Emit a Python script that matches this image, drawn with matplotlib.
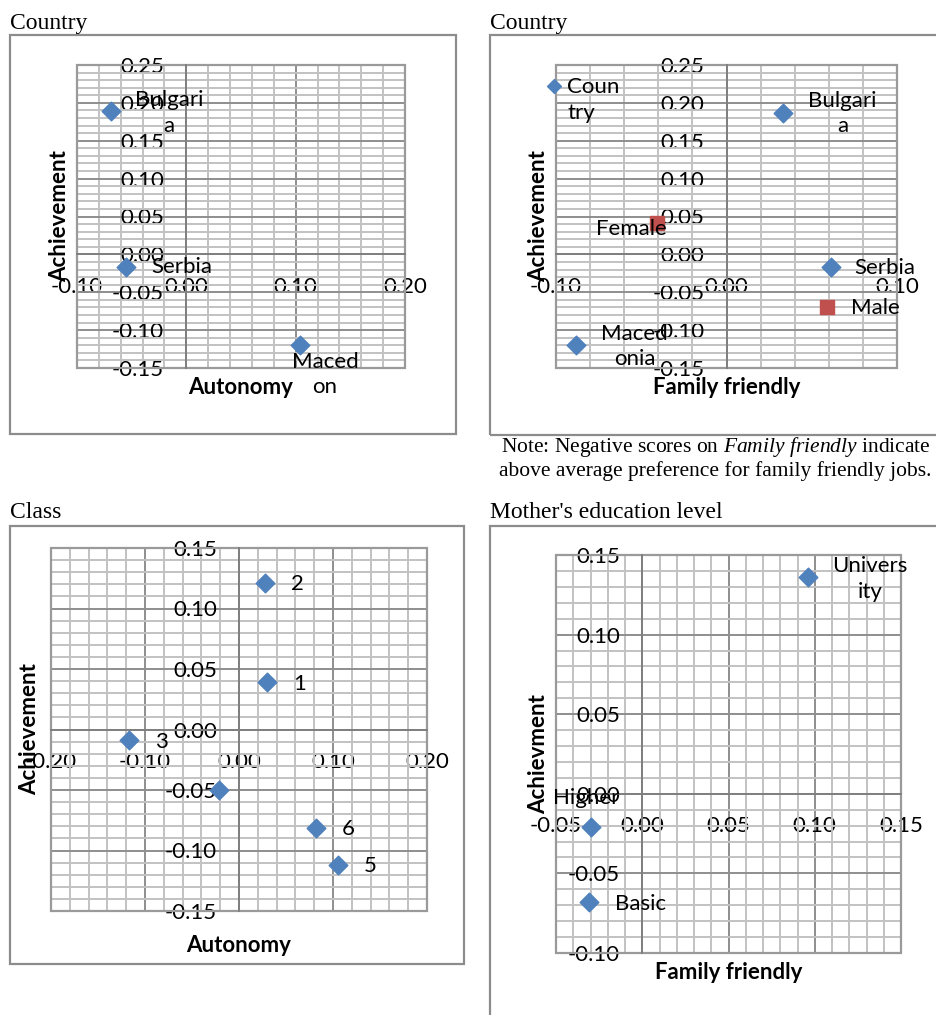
import matplotlib
matplotlib.use('Agg')
from matplotlib import pyplot as plt
from matplotlib.patches import Rectangle
from matplotlib.ticker import MultipleLocator, FormatStrFormatter

plt.rcParams['axes.unicode_minus'] = False
plt.rcParams['font.family'] = ['Lato', 'DejaVu Sans']
plt.rcParams['mathtext.fontset'] = 'custom'
plt.rcParams['mathtext.rm'] = 'Liberation Serif'
plt.rcParams['mathtext.it'] = 'Liberation Serif:italic'

# panel 1: country, autonomy vs achievement
p1_labels = ['Bulgari\na', 'Serbia', 'Maced\non']
p1_aut = [-0.069, -0.055, 0.104]
p1_ach = [0.189, -0.017, -0.119]

# panel 2: country and gender, family friendly vs achievement
p2_labels = ['Bulgari\na', 'Serbia', 'Maced\nonia']
p2_ff = [0.033, 0.061, -0.088]
p2_ach = [0.187, -0.017, -0.119]
p2_key_label = 'Coun\ntry'
p2_key_ff = [-0.101]
p2_key_ach = [0.222]
gender = ['Female', 'Male']
gender_ff = [-0.041, 0.059]
gender_ach = [0.042, -0.070]

# panel 3: class, autonomy vs achievement
class_labels = ['1', '2', '3', '', '5', '6']
class_aut = [0.030, 0.028, -0.117, -0.021, 0.105, 0.082]
class_ach = [0.039, 0.121, -0.009, -0.050, -0.112, -0.081]

# panel 4: mother's education, family friendly vs achievement
mother_labels = ['Univers\nity', 'Higher', 'Basic']
mother_ff = [0.096, -0.030, -0.031]
mother_ach = [0.136, -0.021, -0.068]

BLUE = '#4F81BD'
RED = '#C0504D'
W, H = 936., 1015.
FS = 16

fig = plt.figure(figsize=(9.36, 10.15), dpi=100)


def frame(l, t, r, b):
    fig.add_artist(Rectangle((l/W, 1-b/H), (r-l)/W, (b-t)/H, transform=fig.transFigure,
                             fill=False, ec='#8c8c8c', lw=1.6))


def panel(box, xlim, ylim, xmaj, xmin, ymaj, ymin, xlabel, ylabel, xl_y, yl_x):
    l, t, r, b = box
    ax = fig.add_axes([l/W, 1-b/H, (r-l)/W, (b-t)/H])
    ax.set_xlim(xlim)
    ax.set_ylim(ylim)
    ax.set_axisbelow(True)
    ax.xaxis.set_major_locator(MultipleLocator(xmaj))
    ax.xaxis.set_minor_locator(MultipleLocator(xmin))
    ax.yaxis.set_major_locator(MultipleLocator(ymaj))
    ax.yaxis.set_minor_locator(MultipleLocator(ymin))
    ax.xaxis.set_major_formatter(FormatStrFormatter('%.2f'))
    ax.yaxis.set_major_formatter(FormatStrFormatter('%.2f'))
    ax.grid(which='minor', color='#c2c2c2', lw=1.4)
    ax.grid(which='major', color='#8e8e8e', lw=1.4)
    for s in ['top', 'right']:
        ax.spines[s].set_visible(False)
    for s in ['left', 'bottom']:
        ax.spines[s].set_position(('data', 0))
        ax.spines[s].set_color('#808080')
        ax.spines[s].set_linewidth(1.4)
    ax.tick_params(which='both', length=0, pad=16, labelsize=FS)
    ax.add_patch(Rectangle((0, 0), 1, 1, transform=ax.transAxes, fill=False,
                           ec='#9a9a9a', lw=1.6, clip_on=False, zorder=0.6))
    ax.text(0.5, xl_y, xlabel, transform=ax.transAxes, ha='center', va='center',
            fontsize=FS, fontweight='bold')
    ax.text(yl_x, 0.5, ylabel, transform=ax.transAxes, ha='center', va='center',
            rotation=90, fontsize=FS, fontweight='bold')
    return ax


def labels(ax, xs, ys, texts, offs, ha='center'):
    for x, y, s, o in zip(xs, ys, texts, offs):
        ax.annotate(s, (x, y), xytext=o, textcoords='offset points', ha=ha, va='center',
                    multialignment=ha, fontsize=FS, linespacing=1.35,
                    annotation_clip=False)


# panel 1
frame(10, 35, 456, 434)
fig.text(10/W, 1-23/H, 'Country', family='Liberation Serif', fontsize=17, va='center')
ax1 = panel((77, 65, 405, 368), (-0.10, 0.20), (-0.15, 0.25), 0.1, 0.02, 0.05, 0.01,
            'Autonomy', 'Achievement', -0.066, -0.052)
ax1.scatter(p1_aut, p1_ach, marker='D', s=90, color=BLUE, zorder=3)
labels(ax1, p1_aut, p1_ach, p1_labels, [(42, -1.5), (40, 0), (18, -21.6)])

# panel 2
frame(490, 35, 950, 435)
fig.text(490/W, 1-23/H, 'Country', family='Liberation Serif', fontsize=17, va='center')
ax2 = panel((556, 65, 897, 368), (-0.10, 0.10), (-0.15, 0.25), 0.1, 0.02, 0.05, 0.01,
            'Family friendly', 'Achievement', -0.066, -0.05)
ax2.scatter(p2_ff, p2_ach, marker='D', s=90, color=BLUE, zorder=3)
ax2.scatter(p2_key_ff, p2_key_ach, marker='D', s=50, color=BLUE, zorder=3, clip_on=False)
ax2.scatter(gender_ff, gender_ach, marker='s', s=110, color=RED, zorder=3)
labels(ax2, p2_ff, p2_ach, p2_labels, [(43, -0.7), (39, -0.7), (42, -1.4)])
labels(ax2, p2_key_ff, p2_key_ach, [p2_key_label], [(9.4, -10)], ha='left')
labels(ax2, gender_ff[:1], gender_ach[:1], gender[:1], [(7, -4.3)], ha='right')
labels(ax2, gender_ff[1:], gender_ach[1:], gender[1:], [(17, -0.7)], ha='left')

fig.text(931/W, 1-447/H, r'Note: Negative scores on $\mathit{Family\ friendly}$ indicate',
         family='Liberation Serif', fontsize=15.5, ha='right', va='center')
fig.text(931/W, 1-471/H, 'above average preference for family friendly jobs.',
         family='Liberation Serif', fontsize=15.5, ha='right', va='center')

# panel 3
frame(10, 526, 464, 964)
fig.text(10/W, 1-513/H, 'Class', family='Liberation Serif', fontsize=17, va='center')
ax3 = panel((51, 548, 427, 911), (-0.20, 0.20), (-0.15, 0.15), 0.1, 0.02, 0.05, 0.01,
            'Autonomy', 'Achievement', -0.096, -0.056)
ax3.scatter(class_aut, class_ach, marker='D', s=90, color=BLUE, zorder=3)
labels(ax3, class_aut, class_ach, class_labels, [(18.5, -1)] * 6, ha='left')

# panel 4
frame(490, 526, 950, 1025)
fig.text(490/W, 1-513/H, "Mother's education level", family='Liberation Serif', fontsize=17,
         va='center')
ax4 = panel((556, 555, 901, 953), (-0.05, 0.15), (-0.10, 0.15), 0.05, 0.01, 0.05, 0.01,
            'Family friendly', 'Achievment', -0.05, -0.049)
ax4.scatter(mother_ff, mother_ach, marker='D', s=90, color=BLUE, zorder=3)
labels(ax4, mother_ff[:2], mother_ach[:2], mother_labels[:2], [(44.6, -1.4), (-3, 21)])
labels(ax4, mother_ff[2:], mother_ach[2:], mother_labels[2:], [(18.7, -1.4)], ha='left')

plt.savefig('out.png', dpi=100)
